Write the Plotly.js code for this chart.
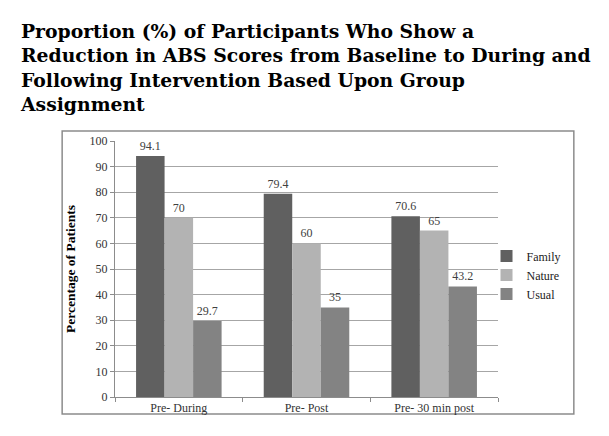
<!DOCTYPE html>
<html>
<head>
<meta charset="utf-8">
<script src="https://cdn.plot.ly/plotly-3.0.1.min.js"></script>
<style>
html,body{margin:0;padding:0;background:#fff;}
#chart{width:609px;height:436px;}
</style>
</head>
<body>
<div id="chart"></div>
<script>
const categories = ["Pre- During", "Pre- Post", "Pre- 30 min post"];
const seriesNames = ["Family", "Nature", "Usual"];
const family = [94.1, 79.4, 70.6];
const nature = [70, 60, 65];
const usual = [29.7, 35, 43.2];
const yTicks = [0, 10, 20, 30, 40, 50, 60, 70, 80, 90, 100];
const titleText = "Proportion (%) of Participants Who Show a<br>Reduction in ABS Scores from Baseline to During and<br>Following Intervention Based Upon Group<br>Assignment";
const yTitle = "Percentage of Patients";

const colors = ["#606060", "#b3b3b3", "#838383"];
const values = [family, nature, usual];
const serif = "Liberation Serif";

const traces = values.map((v, i) => ({
  type: "bar",
  name: seriesNames[i],
  x: categories,
  y: v,
  marker: {color: colors[i], line: {width: 0}},
  text: v.map(String),
  textposition: "outside",
  cliponaxis: false,
  textfont: {family: serif, size: 12, color: "#404040"}
}));

const layout = {
  width: 609, height: 436,
  margin: {l: 115, r: 111, t: 141, b: 39},
  paper_bgcolor: "#fff", plot_bgcolor: "#fff",
  barmode: "group", bargap: 0.33, bargroupgap: 0,
  title: {
    text: titleText,
    font: {family: "DejaVu Serif", size: 18.8, color: "#000", weight: "bold"},
    xref: "container", x: 21/609, xanchor: "left",
    yref: "container", y: 1 - 38/436, yanchor: "top",
    align: "left"
  },
  xaxis: {
    showgrid: false, showline: true, linecolor: "#8c8c8c", linewidth: 1,
    ticks: "outside", tickson: "boundaries", ticklen: 4, tickcolor: "#8c8c8c",
    tickfont: {family: serif, size: 12, color: "#333"}
  },
  yaxis: {
    range: [0, 100], tickvals: yTicks, ticktext: yTicks.map(String),
    showgrid: true, gridcolor: "#a6a6a6", gridwidth: 1,
    showline: true, linecolor: "#8c8c8c", linewidth: 1,
    ticks: "outside", ticklen: 4, tickcolor: "#8c8c8c",
    tickfont: {family: serif, size: 12, color: "#333"},
    zeroline: false,
    title: {text: yTitle, font: {family: serif, size: 13.5, color: "#000", weight: "bold"}, standoff: 10}
  },
  legend: {
    x: 0.97, xanchor: "left", y: 0.477, yanchor: "middle",
    font: {family: serif, size: 12, color: "#222"},
    bgcolor: "rgba(0,0,0,0)", itemwidth: 30, tracegroupgap: 0
  },
  shapes: [{
    type: "rect", xref: "paper", yref: "paper",
    x0: -0.138, x1: 1.198, y0: -0.066, y1: 1.039,
    line: {color: "#8c8c8c", width: 1.5}, fillcolor: "rgba(0,0,0,0)", layer: "below"
  }],
  showlegend: true
};

Plotly.newPlot("chart", traces, layout, {displayModeBar: false, staticPlot: true});
</script>
</body>
</html>
